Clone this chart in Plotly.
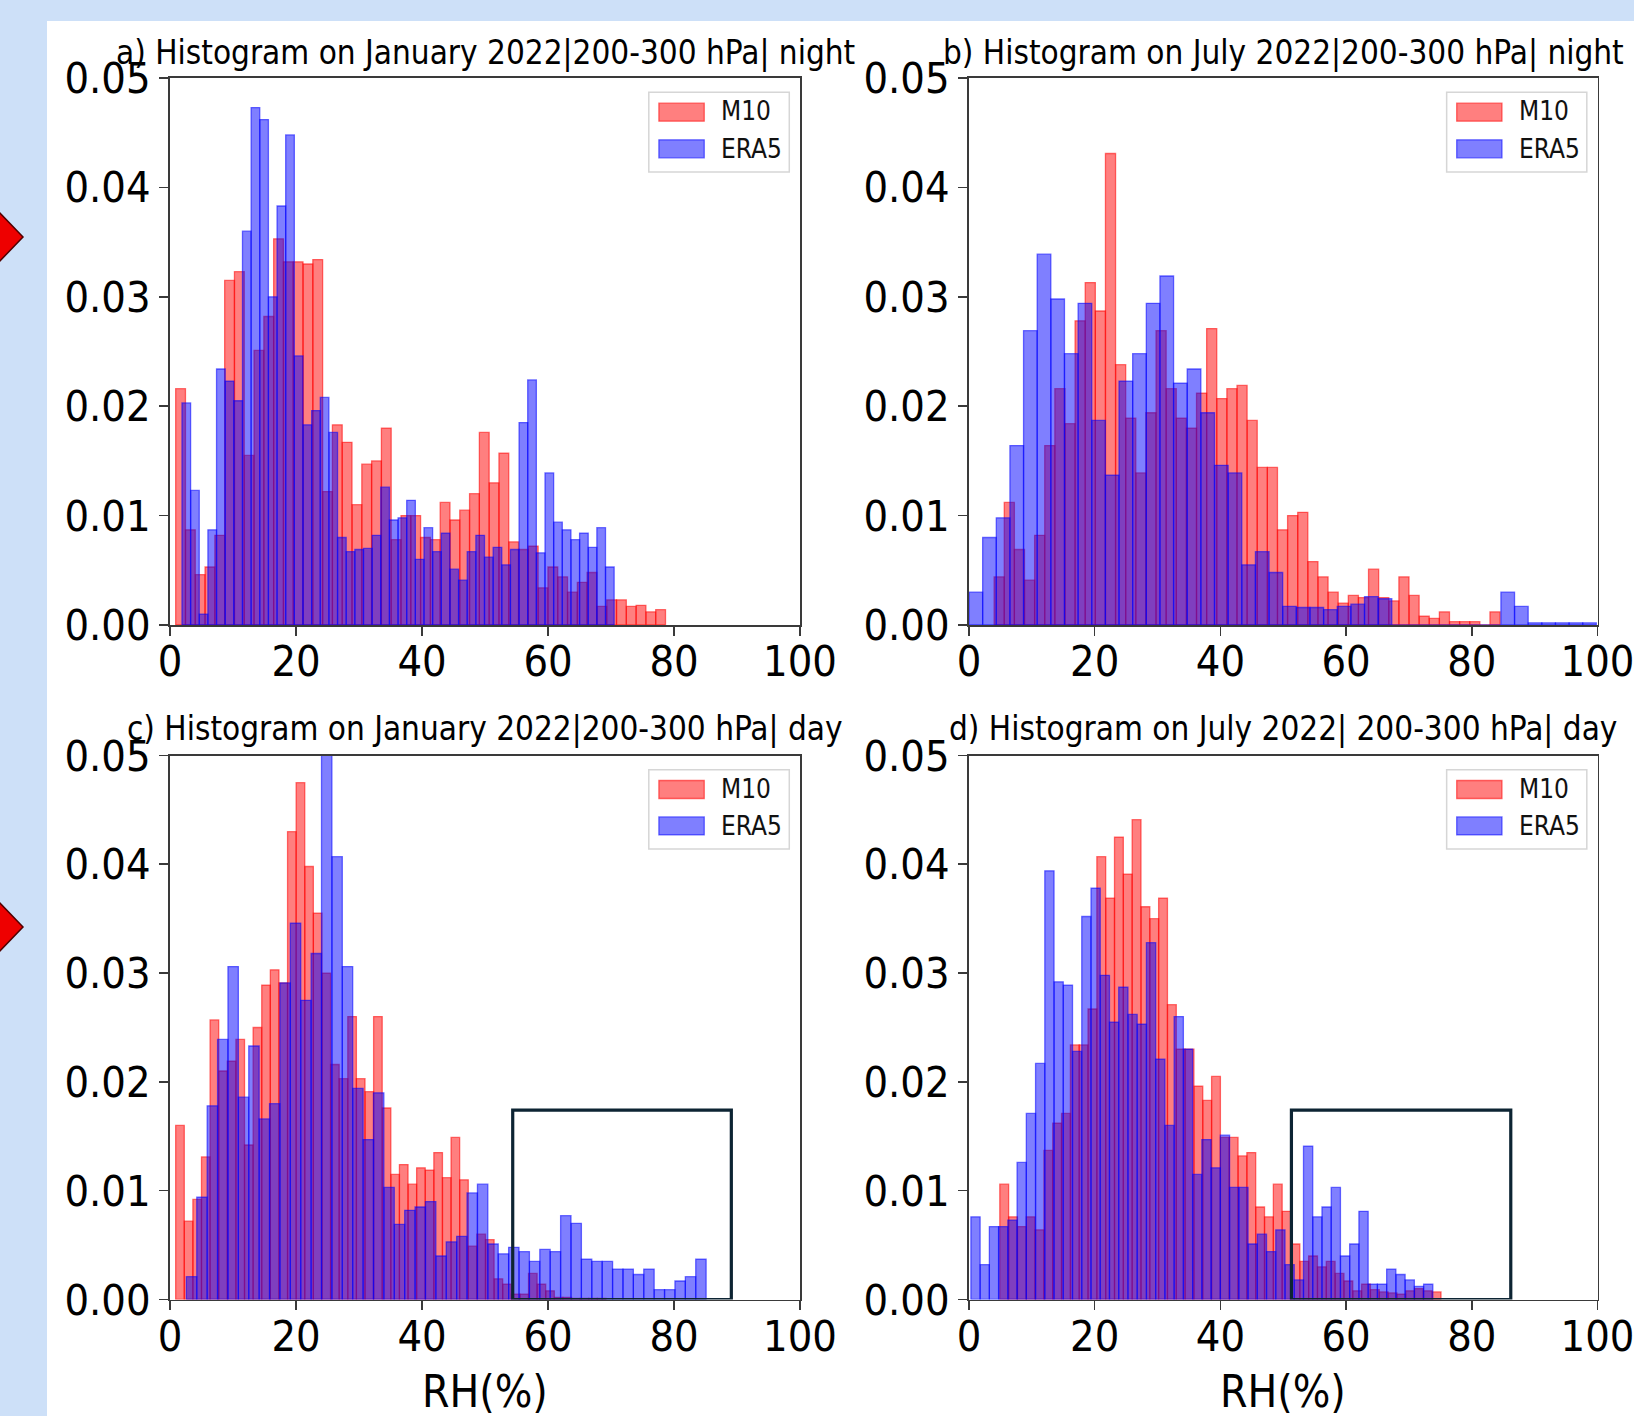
import numpy as np
import plotly.graph_objects as go

W, H = 1634, 1416
FONT = "DejaVu Sans Condensed, DejaVu Sans, sans-serif"
BG = "#cde0f8"

# ---------------- data ----------------
X_TICKS = [0, 20, 40, 60, 80, 100]
Y_TICKS = [0.00, 0.01, 0.02, 0.03, 0.04, 0.05]
SERIES = ["M10", "ERA5"]
TITLES = [
    "a) Histogram on January 2022|200-300 hPa| night",
    "b) Histogram on July 2022|200-300 hPa| night",
    "c) Histogram on January 2022|200-300 hPa| day",
    "d) Histogram on July 2022| 200-300 hPa| day",
]
X_LABEL = "RH(%)"

# panel a (January, night): bin start, bin width, densities
A_M10_START, A_M10_WIDTH = 0.9, 1.555
A_M10 = [0.0216, 0.0087, 0.0046, 0.0053, 0.0082, 0.0315, 0.0323, 0.0155, 0.0251, 0.0282,
         0.0353, 0.0332, 0.0332, 0.0330, 0.0334, 0.0122, 0.0183, 0.0167, 0.0110, 0.0147,
         0.0150, 0.0180, 0.0078, 0.0100, 0.0100, 0.0080, 0.0078, 0.0112, 0.0096, 0.0105,
         0.0120, 0.0176, 0.0130, 0.0157, 0.0076, 0.0069, 0.0072, 0.0034, 0.0053, 0.0044,
         0.0030, 0.0039, 0.0048, 0.0017, 0.0023, 0.0023, 0.0017, 0.0018, 0.0012, 0.0014]
A_ERA5_START, A_ERA5_WIDTH = 1.9, 1.372
A_ERA5 = [0.0203, 0.0123, 0.0010, 0.0087, 0.0234, 0.0223, 0.0205, 0.0360, 0.0473, 0.0462,
          0.0300, 0.0383, 0.0448, 0.0246, 0.0183, 0.0196, 0.0208, 0.0176, 0.0080, 0.0067,
          0.0069, 0.0070, 0.0082, 0.0126, 0.0096, 0.0098, 0.0114, 0.0060, 0.0089, 0.0067,
          0.0084, 0.0051, 0.0041, 0.0067, 0.0082, 0.0062, 0.0071, 0.0055, 0.0069, 0.0185,
          0.0224, 0.0066, 0.0139, 0.0094, 0.0087, 0.0078, 0.0084, 0.0071, 0.0089, 0.0053]

# panel b (July, night)
B_M10_START, B_M10_WIDTH = 4.0, 1.61
B_M10 = [0.0044, 0.0112, 0.0069, 0.0041, 0.0082, 0.0164, 0.0216, 0.0184, 0.0278, 0.0313,
         0.0287, 0.0431, 0.0238, 0.0189, 0.0139, 0.0194, 0.0269, 0.0216, 0.0189, 0.0180,
         0.0212, 0.0271, 0.0207, 0.0216, 0.0219, 0.0187, 0.0144, 0.0144, 0.0087, 0.0100,
         0.0103, 0.0058, 0.0044, 0.0030, 0.0020, 0.0027, 0.0025, 0.0051, 0.0025, 0.0022,
         0.0044, 0.0027, 0.0008, 0.0006, 0.0012, 0.0003, 0.0003, 0.0003, 0.0000, 0.0012]
B_ERA5_START, B_ERA5_WIDTH = 0.0, 2.17
B_ERA5 = [0.0030, 0.0080, 0.0098, 0.0164, 0.0269, 0.0339, 0.0298, 0.0248, 0.0294, 0.0187,
          0.0137, 0.0223, 0.0248, 0.0294, 0.0319, 0.0221, 0.0234, 0.0194, 0.0146, 0.0139,
          0.0055, 0.0067, 0.0048, 0.0017, 0.0016, 0.0016, 0.0014, 0.0017, 0.0019, 0.0026,
          0.0024, 0.0000, 0.0000, 0.0000, 0.0000, 0.0000, 0.0000, 0.0000, 0.0000, 0.0030,
          0.0017, 0.0002, 0.0002, 0.0002, 0.0002, 0.0002]

# panel c (January, day)
C_M10_START, C_M10_WIDTH = 0.9, 1.366
C_M10 = [0.0160, 0.0072, 0.0092, 0.0131, 0.0257, 0.0210, 0.0219, 0.0239, 0.0142, 0.0250,
         0.0289, 0.0303, 0.0291, 0.0430, 0.0475, 0.0398, 0.0355, 0.0300, 0.0216, 0.0203,
         0.0260, 0.0203, 0.0191, 0.0260, 0.0176, 0.0115, 0.0124, 0.0106, 0.0121, 0.0119,
         0.0135, 0.0112, 0.0149, 0.0110, 0.0049, 0.0060, 0.0055, 0.0019, 0.0014, 0.0005,
         0.0005, 0.0024, 0.0014, 0.0008, 0.0002, 0.0002, 0.0001, 0.0001, 0.0001, 0.0001]
C_ERA5_START, C_ERA5_WIDTH = 2.6, 1.65
C_ERA5 = [0.0021, 0.0094, 0.0178, 0.0239, 0.0306, 0.0186, 0.0233, 0.0166, 0.0180, 0.0291,
          0.0346, 0.0275, 0.0318, 0.0502, 0.0407, 0.0306, 0.0194, 0.0147, 0.0190, 0.0103,
          0.0069, 0.0082, 0.0085, 0.0090, 0.0040, 0.0053, 0.0058, 0.0098, 0.0106, 0.0051,
          0.0042, 0.0048, 0.0044, 0.0035, 0.0046, 0.0044, 0.0077, 0.0070, 0.0037, 0.0035,
          0.0035, 0.0028, 0.0028, 0.0023, 0.0028, 0.0009, 0.0009, 0.0017, 0.0021, 0.0037]

# panel d (July, day)
D_M10_START, D_M10_WIDTH = 4.9, 1.404
D_M10 = [0.0106, 0.0076, 0.0067, 0.0076, 0.0064, 0.0137, 0.0162, 0.0171, 0.0234, 0.0234,
         0.0267, 0.0407, 0.0369, 0.0425, 0.0391, 0.0441, 0.0361, 0.0350, 0.0369, 0.0271,
         0.0230, 0.0230, 0.0196, 0.0183, 0.0205, 0.0149, 0.0149, 0.0132, 0.0135, 0.0085,
         0.0076, 0.0106, 0.0081, 0.0051, 0.0035, 0.0040, 0.0030, 0.0035, 0.0024, 0.0017,
         0.0008, 0.0014, 0.0009, 0.0007, 0.0006, 0.0005, 0.0008, 0.0010, 0.0008, 0.0007]
D_ERA5_START, D_ERA5_WIDTH = 0.3, 1.47
D_ERA5 = [0.0076, 0.0032, 0.0067, 0.0067, 0.0073, 0.0126, 0.0171, 0.0217, 0.0394, 0.0292,
          0.0289, 0.0228, 0.0352, 0.0378, 0.0298, 0.0255, 0.0287, 0.0262, 0.0253, 0.0328,
          0.0221, 0.0160, 0.0260, 0.0230, 0.0115, 0.0147, 0.0121, 0.0151, 0.0103, 0.0103,
          0.0051, 0.0060, 0.0044, 0.0064, 0.0032, 0.0018, 0.0141, 0.0076, 0.0085, 0.0103,
          0.0040, 0.0051, 0.0081, 0.0014, 0.0014, 0.0028, 0.0023, 0.0018, 0.0012, 0.0014]

# highlight boxes (RH range, density top) in panels c and d
BOX_C = (54.4, 89.1, 0.0174)
BOX_D = (51.3, 86.2, 0.0174)

PANELS = [
    ((A_M10_START, A_M10_WIDTH, A_M10), (A_ERA5_START, A_ERA5_WIDTH, A_ERA5)),
    ((B_M10_START, B_M10_WIDTH, B_M10), (B_ERA5_START, B_ERA5_WIDTH, B_ERA5)),
    ((C_M10_START, C_M10_WIDTH, C_M10), (C_ERA5_START, C_ERA5_WIDTH, C_ERA5)),
    ((D_M10_START, D_M10_WIDTH, D_M10), (D_ERA5_START, D_ERA5_WIDTH, D_ERA5)),
]
BOXES = [None, None, BOX_C, BOX_D]

# ---------------- style ----------------
FILL = ["rgba(255,0,0,0.5)", "rgba(0,0,255,0.5)"]
EDGE = ["rgba(255,0,0,0.55)", "rgba(0,0,255,0.55)"]
SPINE = "#3a3a3a"

def px_x(p):
    return p / W

def px_y(p):
    return 1 - p / H

# axes boxes in pixels (left, right, top, bottom)
AX_PX = [
    (170, 800, 78, 625),
    (969, 1597.5, 78, 625),
    (170, 800, 755.5, 1299.5),
    (969, 1597.5, 755.5, 1299.5),
]
TITLE_Y_PX = [52, 52, 728, 728]

fig = go.Figure()
layout = dict(
    width=W, height=H, autosize=False,
    margin=dict(l=0, r=0, t=0, b=0, pad=0, autoexpand=False),
    paper_bgcolor=BG, plot_bgcolor="white",
    barmode="overlay", bargap=0, showlegend=False,
    font=dict(family=FONT, color="black"),
)
shapes = [
    dict(type="rect", xref="paper", yref="paper", x0=px_x(47), x1=1.0, y0=0.0, y1=px_y(21),
         fillcolor="white", line=dict(width=0), layer="below"),
]
# red diamond markers at the left edge of the slide
for cy in (237, 927):
    shapes.append(dict(type="path", xref="paper", yref="paper",
                       path=f"M {px_x(-3)},{px_y(cy-27)} L {px_x(23)},{px_y(cy)} L {px_x(-3)},{px_y(cy+27)} Z",
                       fillcolor="#ee0000", line=dict(color="#500000", width=1.5), layer="above"))
annotations = []

for i, (panel, box) in enumerate(zip(PANELS, BOXES)):
    sfx = "" if i == 0 else str(i + 1)
    xa, ya = "x" + sfx, "y" + sfx
    for j, (start, width, vals) in enumerate(panel):
        centers = start + width * (np.arange(len(vals)) + 0.5)
        fig.add_trace(go.Bar(
            x=centers, y=vals, width=width, name=SERIES[j],
            marker=dict(color=FILL[j], line=dict(color=EDGE[j], width=1.3)),
            xaxis=xa, yaxis=ya, showlegend=False, hoverinfo="skip",
        ))
    l, r, t, b = AX_PX[i]
    common = dict(showline=True, linecolor=SPINE, linewidth=1.8, mirror=True,
                  ticks="outside", ticklen=9, tickwidth=1.6, tickcolor=SPINE,
                  showgrid=False, zeroline=False, automargin=False,
                  ticklabeloverflow="allow",
                  tickfont=dict(family=FONT, size=43, color="black"))
    layout["xaxis" + sfx] = dict(common, domain=[px_x(l), px_x(r)], range=[0, 100],
                                 tickvals=X_TICKS, anchor=ya, fixedrange=True,
                                 ticklabelstandoff=-11)
    layout["yaxis" + sfx] = dict(common, domain=[px_y(b), px_y(t)], range=[0, 0.05],
                                 tickvals=Y_TICKS, tickformat=".2f", anchor=xa,
                                 ticklabelstandoff=0, fixedrange=True)
    # title
    annotations.append(dict(xref="paper", yref="paper", x=px_x((l + r) / 2), y=px_y(TITLE_Y_PX[i]),
                            text=TITLES[i], showarrow=False, xanchor="center", yanchor="middle",
                            font=dict(family=FONT, size=33, color="black")))
    # legend (matplotlib style)
    xd, yd = xa + " domain", ya + " domain"
    shapes.append(dict(type="rect", xref=xd, yref=yd, x0=0.760, x1=0.983, y0=0.828, y1=0.974,
                       fillcolor="rgba(255,255,255,0.85)", line=dict(color="#d6d6d6", width=1.5)))
    for j, (y0, y1, ymid) in enumerate([(0.921, 0.954, 0.939), (0.854, 0.887, 0.870)]):
        shapes.append(dict(type="rect", xref=xd, yref=yd, x0=0.776, x1=0.848, y0=y0, y1=y1,
                           fillcolor=FILL[j], line=dict(color=EDGE[j], width=1.3)))
        annotations.append(dict(xref=xd, yref=yd, x=0.872, y=ymid, text=SERIES[j],
                                showarrow=False, xanchor="left", yanchor="middle",
                                font=dict(family=FONT, size=26, color="#111")))
    if box is not None:
        bx0, bx1, by1 = box
        shapes.append(dict(type="rect", xref=xa, yref=ya, x0=bx0, x1=bx1, y0=0, y1=by1,
                           line=dict(color="#0d2433", width=3.2), fillcolor="rgba(0,0,0,0)"))
        annotations.append(dict(xref="paper", yref="paper", x=px_x((l + r) / 2), y=px_y(1391),
                                text=X_LABEL, showarrow=False, xanchor="center", yanchor="middle",
                                font=dict(family=FONT, size=44, color="black")))

layout["shapes"] = shapes
layout["annotations"] = annotations
fig.update_layout(**layout)
fig.write_html(
    "out.html",
    config={"displayModeBar": False, "staticPlot": True},
    post_script=f"document.body.style.margin='0';document.body.style.background='{BG}';",
)
